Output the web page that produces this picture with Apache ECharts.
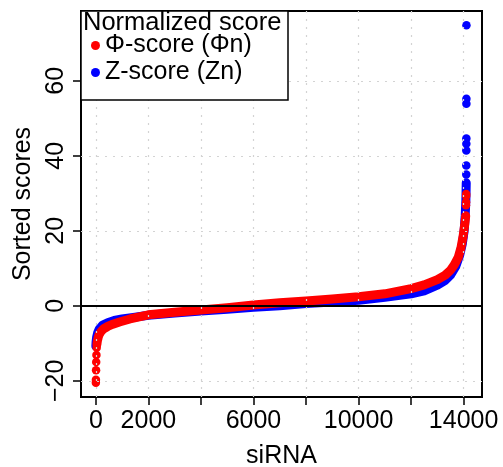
<!DOCTYPE html>
<html>
<head>
<meta charset="utf-8">
<script src="https://cdn.jsdelivr.net/npm/echarts@6/dist/echarts.min.js"></script>
<style>
  html, body { margin: 0; padding: 0; background: #fff; }
  #chart { width: 503px; height: 467px; }
</style>
</head>
<body>
<div id="chart"></div>
<script>
// sorted scores (rank of siRNA -> score)
var phiRank = [40, 60, 90, 130, 200, 300, 450, 650, 900, 1300, 2000, 3000, 4000, 5000, 6000, 7000, 8000,
    9000, 10000, 11000, 12000, 12500, 13000, 13300, 13500, 13650, 13800, 13900, 13980, 14040, 14080];
var phiScore = [-10.3, -9.3, -8.4, -7.6, -6.8, -6.1, -5.5, -4.9, -4.3, -3.5, -2.4, -1.7, -1.1, -0.5, 0.2, 0.8, 1.3,
    1.8, 2.4, 3.2, 4.6, 5.6, 7.0, 8.2, 9.5, 11.0, 13.0, 15.5, 18.5, 21.5, 24.0];
// single points at both ends
var phiEndRank = [1, 3, 8, 14, 22, 32, 14090, 14094, 14097, 14099];
var phiEndScore = [-20.5, -19.7, -17.2, -15.0, -13.1, -11.2, 26.8, 27.6, 29.3, 29.8];

var zRank = [0, 10, 30, 70, 130, 250, 450, 700, 1000, 1500, 2000, 3000, 4000, 5000, 6000, 7000, 8000,
    9000, 10000, 11000, 12000, 12500, 13000, 13300, 13500, 13700, 13850, 13950, 14020, 14060, 14085, 14095, 14100];
var zScore = [-10.8, -9.6, -8.4, -7.2, -6.2, -5.2, -4.5, -3.9, -3.5, -3.0, -2.5, -1.9, -1.4, -0.9, -0.4, 0.0, 0.6,
    1.0, 1.5, 2.3, 3.2, 4.0, 5.5, 6.8, 8.2, 10.5, 13.5, 16.5, 20.0, 24.0, 28.0, 31.0, 32.8];
var zEndRank = [14101, 14102, 14103, 14104, 14105, 14106, 14107, 14108];
var zEndScore = [35.0, 37.4, 41.4, 43.2, 44.6, 53.9, 55.2, 74.8];

var xTicks = [0, 2000, 4000, 6000, 8000, 10000, 12000, 14000];
var xLabels = [0, 2000, 6000, 10000, 14000];
var yTicks = [-20, 0, 20, 40, 60];

var FONT = 'Liberation Sans, Arial, Helvetica, sans-serif';
var RED = '#ff0000', BLUE = '#0000ff';

function pairs(a, b) {
    return a.map(function (v, i) { return [v, b[i]]; });
}

var gridLines = [];
xTicks.forEach(function (v) { gridLines.push({ xAxis: v }); });
yTicks.forEach(function (v) { gridLines.push({ yAxis: v }); });
gridLines.push({ yAxis: 0, lineStyle: { color: '#000', type: 'solid', width: 2 } });

var myChart = echarts.init(document.getElementById('chart'));

var option = {
    animation: false,
    textStyle: { fontFamily: FONT },
    title: {
        text: 'Normalized score',
        left: 83, top: 10, padding: 0, z: 30,
        textStyle: { fontSize: 25.5, fontWeight: 'normal', color: '#000', fontFamily: FONT }
    },
    legend: {
        data: ['Φ-score (Φn)', 'Z-score (Zn)'],
        orient: 'vertical',
        left: 91, top: 33, padding: 0, z: 30,
        icon: 'circle', itemWidth: 9, itemHeight: 9, itemGap: 2,
        textStyle: { fontSize: 25, color: '#000', fontFamily: FONT }
    },
    graphic: [{
        type: 'rect', z: 20,
        shape: { x: 81, y: 11, width: 207, height: 89 },
        style: { fill: '#fff', stroke: '#000', lineWidth: 1.5 }
    }],
    grid: {
        left: 81, right: 21, top: 11, bottom: 70,
        outerBoundsMode: 'none',
        show: true, borderColor: '#000', borderWidth: 2, backgroundColor: '#fff'
    },
    xAxis: {
        type: 'value', min: -565, max: 14700,
        name: 'siRNA', nameLocation: 'middle', nameGap: 47,
        nameTextStyle: { fontSize: 25, color: '#000', fontFamily: FONT },
        axisLine: { show: false, onZero: false },
        axisTick: { show: true, length: 8, lineStyle: { color: '#000', width: 1.5 }, customValues: xTicks },
        axisLabel: {
            fontSize: 25, color: '#000', margin: 12, customValues: xLabels, fontFamily: FONT,
            formatter: function (v) { return String(v); }
        },
        splitLine: { show: false }
    },
    yAxis: {
        type: 'value', min: -24.3, max: 78.6,
        name: 'Sorted scores', nameLocation: 'middle', nameGap: 43,
        nameTextStyle: { fontSize: 25, color: '#000', fontFamily: FONT },
        axisLine: { show: false, onZero: false },
        axisTick: { show: true, length: 8, lineStyle: { color: '#000', width: 1.5 }, customValues: yTicks },
        axisLabel: {
            fontSize: 25, color: '#000', rotate: 90, margin: 12, customValues: yTicks, fontFamily: FONT,
            formatter: function (v) { return String(v).replace('-', '\u2212'); }
        },
        splitLine: { show: false }
    },
    series: [
        {
            name: 'Z-score (Zn)', type: 'line', data: pairs(zRank, zScore),
            showSymbol: false, itemStyle: { color: BLUE },
            lineStyle: { color: BLUE, width: 9, cap: 'round', join: 'round' }, z: 2
        },
        {
            name: 'Z-score (Zn)', type: 'scatter', data: pairs(zEndRank, zEndScore),
            symbolSize: 8.5, itemStyle: { color: BLUE, opacity: 1 }, z: 2
        },
        {
            name: 'Φ-score (Φn)', type: 'line', data: pairs(phiRank, phiScore),
            showSymbol: false, itemStyle: { color: RED },
            lineStyle: { color: RED, width: 9, cap: 'round', join: 'round' }, z: 3
        },
        {
            name: 'Φ-score (Φn)', type: 'scatter', data: pairs(phiEndRank, phiEndScore),
            symbolSize: 8.5, itemStyle: { color: RED, opacity: 1 }, z: 3
        },
        {
            name: 'grid', type: 'line', data: [], silent: true, z: 10,
            markLine: {
                symbol: 'none', silent: true, animation: false,
                label: { show: false },
                lineStyle: { color: '#d3d3d3', type: [2, 6], width: 1.2 },
                data: gridLines
            }
        }
    ]
};

myChart.setOption(option);
</script>
</body>
</html>
